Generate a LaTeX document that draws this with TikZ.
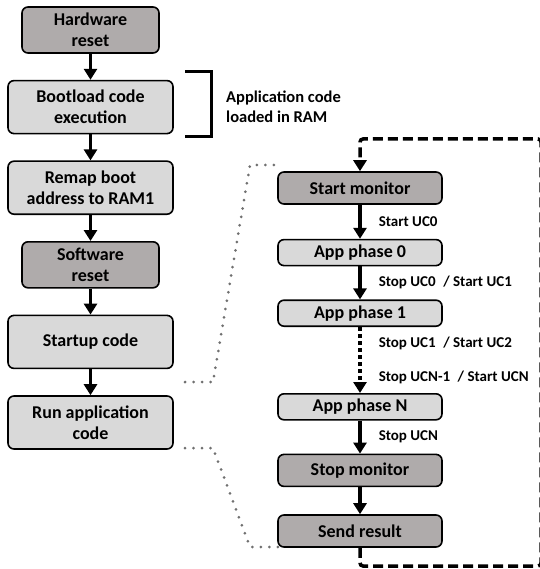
\documentclass[tikz,border=0pt]{standalone}
\usepackage{fontspec}
\setmainfont{Carlito}
\usetikzlibrary{positioning, arrows.meta}

\definecolor{boxlight}{HTML}{D9D9D9}
\definecolor{boxdark}{HTML}{AFABAB}
\definecolor{zoomgray}{HTML}{707070}

\begin{document}
\begin{tikzpicture}[x=1pt,y=-1pt,node distance=26pt,
    >={Triangle[width=13pt,length=11pt]},
    stage/.style={draw,line width=1.6pt,rounded corners=6pt,align=center,
        font=\fontsize{18}{21}\selectfont\bfseries,inner sep=2pt},
    lbox/.style={stage,fill=boxlight,minimum width=165pt,minimum height=53pt},
    dbox/.style={stage,fill=boxdark,minimum width=137pt,minimum height=46pt},
    lphase/.style={stage,fill=boxlight,minimum width=164pt,minimum height=26pt},
    dphase/.style={stage,fill=boxdark,minimum width=164pt,minimum height=32pt},
    flow/.style={->,line width=3.5pt},
    uc/.style={font=\fontsize{15}{17}\selectfont\bfseries,anchor=west,inner sep=0pt,xshift=17pt},
    zoomline/.style={zoomgray,line width=3pt,line cap=round,dash pattern=on 0pt off 8.5pt},
    loopline/.style={line width=3.5pt,dash pattern=on 10pt off 5pt}]

\useasboundingbox (0,0) rectangle (539,569);

% boot sequence
\node[dbox] (hw) at (90.5,30) {Hardware\\reset};
\node[lbox] (boot) [below=of hw] {Bootload code\\execution};
\node[lbox] (remap) [below=of boot] {Remap boot\\address to RAM1};
\node[dbox] (sw) [below=of remap] {Software\\reset};
\node[lbox] (startup) [below=of sw] {Startup code};
\node[lbox] (run) [below=of startup] {Run application\\code};

\path[flow]
(hw) edge (boot)
(boot) edge (remap)
(remap) edge (sw)
(sw) edge (startup)
(startup) edge (run);

% bracket around the bootloader step
\draw[line width=3pt] (185,72) -- (211,72) -- (211,137) -- (185,137);
\node[font=\fontsize{16.5}{19.5}\selectfont\bfseries,align=left,anchor=west,inner sep=0pt]
    (ram) at (226,107) {Application code\\loaded in RAM};

% application phases
\node[dphase] (mon) at (360,188) {Start monitor};
\node[lphase] (p0) [below=34pt of mon] {App phase 0};
\node[lphase] (p1) [below=33pt of p0] {App phase 1};
\node[lphase] (pn) [below=66pt of p1] {App phase N};
\node[dphase] (stop) [below=33pt of pn] {Stop monitor};
\node[dphase] (send) [below=27pt of stop] {Send result};

\path[flow]
(mon) edge node[uc] {Start UC0} (p0)
(p0) edge node[uc] {Stop UC0\enspace/ Start UC1} (p1)
(p1) edge[dash pattern=on 4pt off 3pt]
    node[uc,pos=0.25] {Stop UC1\enspace/ Start UC2}
    node[uc,pos=0.76] {Stop UCN-1\enspace/ Start UCN} (pn)
(pn) edge node[uc] {Stop UCN} (stop)
(stop) edge (send);

% loop back to the monitor
\coordinate (lb) at (360,566);
\coordinate (rb) at (541,566);
\coordinate (rt) at (541,139);
\coordinate (lt) at (360,139);
\coordinate (ma) at (360,160);
\draw[loopline,rounded corners=3pt] (send.south) -- (lb) -- (rb) -- (rt) -- (lt) -- (ma);
\draw[flow] (ma) -- (mon);

% zoom lines from the run step to the phases
\coordinate (za) at (185,382);
\coordinate (zb) at (213,382);
\coordinate (zc) at (250,165);
\coordinate (zd) at (279,165);
\draw[zoomline] (za) -- (zb) -- (zc) -- (zd);
\coordinate (ze) at (185,448);
\coordinate (zf) at (213,448);
\coordinate (zg) at (250,547);
\coordinate (zh) at (279,547);
\draw[zoomline] (ze) -- (zf) -- (zg) -- (zh);

\end{tikzpicture}
\end{document}
